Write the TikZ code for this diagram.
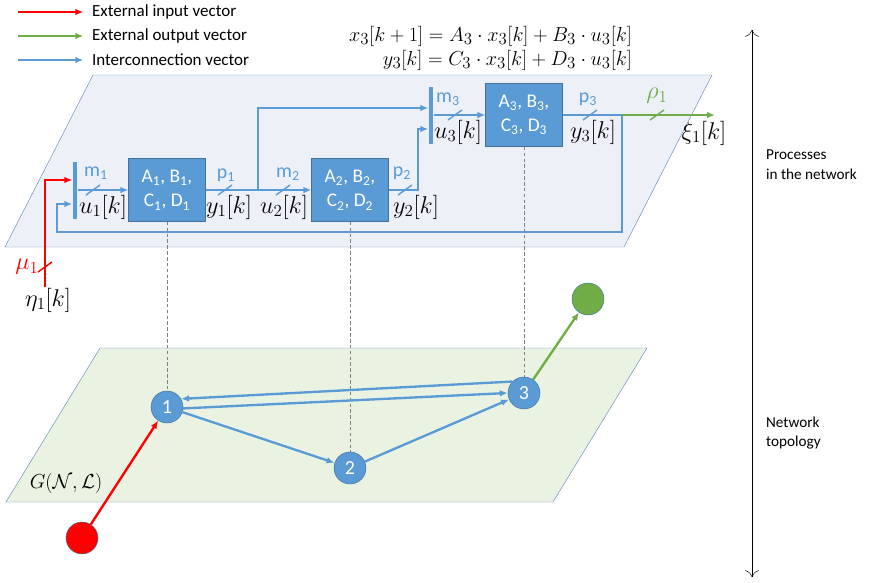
\documentclass[tikz,border=0pt]{standalone}
\usepackage{fontspec}
\setmainfont{Carlito}
\usepackage{amsmath}
\usetikzlibrary{arrows.meta,positioning,calc}
\definecolor{kek}{RGB}{91,155,213}
\definecolor{kekkeret}{RGB}{65,113,156}
\definecolor{zold}{RGB}{112,173,71}
\definecolor{sikkeret}{RGB}{105,140,190}
\definecolor{felsosik}{RGB}{237,241,247}
\definecolor{alsosik}{RGB}{234,242,226}
\tikzset{
  nyil/.style={-{Latex[length=2.4mm,width=2mm]}},
  vonal/.style={kek,line width=2.4pt},
  blokk/.style={draw=kekkeret,fill=kek,text=white,minimum width=2.3cm,minimum height=1.9cm,
    align=center,font=\fontsize{16.5}{21}\selectfont},
  sin/.style={fill=kek,inner sep=0pt,minimum width=4.2pt},
  kor/.style={circle,draw=kekkeret,fill=kek,text=white,minimum size=0.96cm,inner sep=0pt,
    font=\fontsize{17}{17}\selectfont},
  sik/.style={draw=sikkeret,thin},
  felirat/.style={font=\fontsize{20}{22}\selectfont},
  cimke/.style={text=kek,font=\fontsize{17}{19}\selectfont},
  jel/.pic={\draw[line width=1.2pt] (-7,5) -- (7,-5);},
}

\begin{document}
\begin{tikzpicture}[x=0.03cm,y=-0.03cm]
  \useasboundingbox (0,0) rectangle (870,582);
  % jelmagyarazat
  \node[anchor=west,font=\fontsize{14.5}{17}\selectfont] (jm1) at (88,12) {External input vector};
  \node[anchor=west,font=\fontsize{14.5}{17}\selectfont] (jm2) at (88,36) {External output vector};
  \node[anchor=west,font=\fontsize{14.5}{17}\selectfont] (jm3) at (88,60) {Interconnection vector};
  \coordinate (j1) at (18,12); \coordinate (j2) at (18,36); \coordinate (j3) at (18,60);
  \draw[red,line width=1.8pt,nyil,shorten >=4pt] (j1) -- (jm1.west);
  \draw[zold,line width=1.8pt,nyil,shorten >=4pt] (j2) -- (jm2.west);
  \draw[kek,line width=1.8pt,nyil,shorten >=4pt] (j3) -- (jm3.west);
  % egyenletek
  \node[font=\fontsize{19}{21}\selectfont,anchor=east] (eq1) at (636,36) {$x_3[k+1]=A_3\cdot x_3[k]+B_3\cdot u_3[k]$};
  \node[font=\fontsize{19}{21}\selectfont,anchor=east] (eq2) at (636,60) {$y_3[k]=C_3\cdot x_3[k]+D_3\cdot u_3[k]$};
  % sikok
  \filldraw[sik,fill=felsosik] (93,75) -- (712,75) -- (624,247) -- (5,247) -- cycle;
  \filldraw[sik,fill=alsosik] (100,348) -- (647,348) -- (553,502) -- (6,502) -- cycle;
  % blokkok
  \node[blokk] (b1) at (167,190) {A\textsubscript{1}, B\textsubscript{1},\\C\textsubscript{1}, D\textsubscript{1}};
  \node[blokk] (b2) at (350,190) {A\textsubscript{2}, B\textsubscript{2},\\C\textsubscript{2}, D\textsubscript{2}};
  \node[blokk] (b3) at (524,115) {A\textsubscript{3}, B\textsubscript{3},\\C\textsubscript{3}, D\textsubscript{3}};
  \node[sin,minimum height=1.71cm] (s1) at (75,190) {};
  \node[sin,minimum height=1.71cm] (s3) at (431,115) {};
  % graf
  \node[kor] (n1) at (167,407) {1};
  \node[kor] (n2) at (350,468) {2};
  \node[kor] (n3) at (524,393) {3};
  \node[kor,fill=zold] (nki) at (588,299) {};
  \node[kor,fill=red] (nbe) at (82,538) {};
  \foreach \a/\b in {b1/n1,b2/n2,b3/n3}
    \draw[gray,thin,dash pattern=on 3pt off 2pt] (\a) -- (\b);
  \draw[vonal,line width=2pt,nyil] (n3.135) -- (n1.30);
  \draw[vonal,line width=2pt,nyil] (n1.-5) -- (n3.180);
  \draw[vonal,line width=2pt,nyil] (n1) -- (n2);
  \draw[vonal,line width=2pt,nyil] (n2) -- (n3);
  \draw[zold,line width=2pt,nyil] (n3) -- (nki);
  \draw[red,line width=2pt,nyil] (nbe) -- (n1);
  % folyamatok
  \draw[vonal,nyil] (s1) -- (b1);
  \draw[vonal,nyil] (b1) -- (b2);
  \coordinate (ag1) at (258,190);
  \draw[vonal,nyil] (ag1) |- ([yshift=0.21cm]s3.west);
  \draw[vonal,nyil] (b2.east) -- (418,190) |- ([yshift=-0.42cm]s3.west);
  \draw[vonal,nyil] (s3) -- (b3);
  \coordinate (el) at (622,115);
  \draw[vonal] (b3) -- (el);
  \draw[vonal,nyil] (el) -- (622,232) -- (57,232) |- ([yshift=-0.42cm]s1.west);
  \coordinate (ki) at (715,115);
  \draw[zold,line width=2.4pt,nyil] (el) -- (ki);
  \coordinate (be) at (45,287);
  \draw[red,line width=2.4pt,nyil] (be) |- ([yshift=0.3cm]s1.west);
  \foreach \p in {(93,190),(225,190),(283,190),(405,190),(455,115),(590,115)}
    \path \p pic[kek] {jel};
  \path (657,115) pic[zold] {jel};
  \path (45,267) pic[red] {jel};
  % feliratok
  \node[cimke] (lm1) at (96,173) {m\textsubscript{1}};
  \node[felirat] (lu1) at (103,207) {$u_1[k]$};
  \node[cimke] (lp1) at (226,175) {p\textsubscript{1}};
  \node[felirat] (ly1) at (229,207) {$y_1[k]$};
  \node[cimke] (lm2) at (288,174) {m\textsubscript{2}};
  \node[felirat] (lu2) at (284,207) {$u_2[k]$};
  \node[cimke] (lp2) at (402,173) {p\textsubscript{2}};
  \node[felirat] (ly2) at (416,207) {$y_2[k]$};
  \node[cimke] (lm3) at (448,99) {m\textsubscript{3}};
  \node[felirat] (lu3) at (458,132) {$u_3[k]$};
  \node[cimke] (lp3) at (588,99) {p\textsubscript{3}};
  \node[felirat] (ly3) at (593,132) {$y_3[k]$};
  \node[felirat,text=zold] (lro) at (657,96) {$\rho_1$};
  \node[felirat] (lxi) at (704,133) {$\xi_1[k]$};
  \node[felirat,text=red] (lmu) at (27,267) {$\mu_1$};
  \node[felirat] (leta) at (48,300) {$\eta_1[k]$};
  \node[font=\fontsize{17}{19}\selectfont] (lg) at (66,483) {$G(\mathcal{N},\mathcal{L})$};
  % jobb oldal
  \coordinate (nf) at (752,30); \coordinate (na) at (752,577);
  \draw[{To[length=2mm]}-{To[length=2mm]},thin] (nf) -- (na);
  \node[anchor=west,align=left,font=\fontsize{13}{17}\selectfont] (lfo) at (762,165) {Processes\\in the network};
  \node[anchor=west,align=left,font=\fontsize{13}{17}\selectfont] (lto) at (762,433) {Network\\topology};
\end{tikzpicture}
\end{document}
